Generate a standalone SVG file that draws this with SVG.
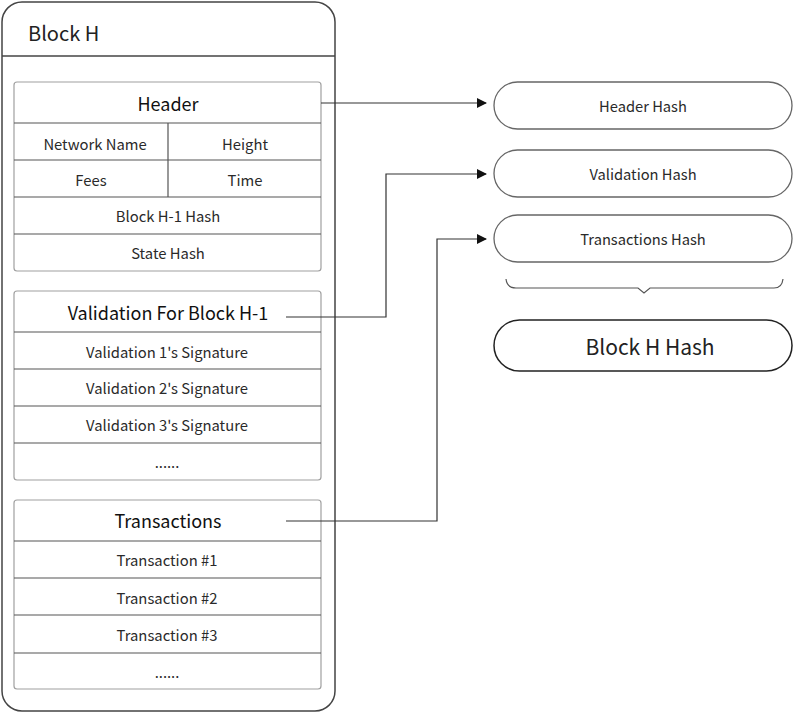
<svg xmlns="http://www.w3.org/2000/svg" width="794" height="713" viewBox="0 0 794 713">
<defs>
<style>
text{font-family:"Noto Sans CJK SC","Noto Sans",sans-serif;fill:#2a2a2a;text-anchor:middle;dominant-baseline:central}
.t{font-size:18px;fill:#111}
.r{font-size:14.8px}
.p{font-size:14.7px}
.box{fill:#fff;stroke:#a0a0a0;stroke-width:1.2}
.div{stroke:#555;stroke-width:1.2;fill:none}
.pill{fill:#fff;stroke:#666;stroke-width:1.3}
.con{fill:none;stroke:#333;stroke-width:1.2}
</style>
<marker id="ah" markerWidth="10" markerHeight="10" refX="9" refY="5" orient="auto" markerUnits="userSpaceOnUse">
<path d="M0,0 L10,5 L0,10 Z" fill="#111"/>
</marker>
</defs>
<rect width="794" height="713" fill="#fff"/>
<g id="block-h">
<rect x="2" y="2" width="333" height="709" rx="20" fill="#fff" stroke="#444" stroke-width="1.5"/>
<line x1="2" y1="56" x2="335" y2="56" stroke="#444" stroke-width="1.5"/>
<text x="28" y="32" style="font-size:20px;text-anchor:start;fill:#222">Block H</text>
</g>
<g id="header">
<rect class="box" x="14" y="82" width="307" height="189" rx="3"/>
<path class="div" d="M14,123H321M14,160H321M14,197H321M14,234H321M168,123V197"/>
<text class="t" x="168" y="103">Header</text>
<text class="r" x="95" y="143">Network Name</text>
<text class="r" x="245" y="143">Height</text>
<text class="r" x="91" y="179">Fees</text>
<text class="r" x="245" y="179">Time</text>
<text class="r" x="168" y="215">Block H-1 Hash</text>
<text class="r" x="168" y="252">State Hash</text>
</g>
<g id="validation">
<rect class="box" x="14" y="291" width="307" height="189" rx="3"/>
<path class="div" d="M14,332H321M14,369H321M14,406H321M14,443H321"/>
<text class="t" x="168" y="312">Validation For Block H-1</text>
<text class="r" x="167" y="351">Validation 1's Signature</text>
<text class="r" x="167" y="387">Validation 2's Signature</text>
<text class="r" x="167" y="424">Validation 3's Signature</text>
<text class="r" x="167" y="461">......</text>
</g>
<g id="transactions">
<rect class="box" x="14" y="500" width="307" height="189" rx="3"/>
<path class="div" d="M14,541H321M14,578H321M14,615H321M14,653H321"/>
<text class="t" x="168" y="520">Transactions</text>
<text class="r" x="167" y="559">Transaction #1</text>
<text class="r" x="167" y="597">Transaction #2</text>
<text class="r" x="167" y="634">Transaction #3</text>
<text class="r" x="167" y="671">......</text>
</g>
<g id="header-hash">
<rect class="pill" x="494" y="82" width="298" height="47" rx="23.5"/>
<text class="p" x="643" y="105">Header Hash</text>
</g>
<g id="validation-hash">
<rect class="pill" x="494" y="150" width="298" height="47" rx="23.5"/>
<text class="p" x="643" y="173">Validation Hash</text>
</g>
<g id="transactions-hash">
<rect class="pill" x="494" y="215" width="298" height="47" rx="23.5"/>
<text class="p" x="643" y="238">Transactions Hash</text>
</g>
<g id="brace">
<path d="M506,279 Q507,288 516,288 H638 L644,293 L650,288 H774 Q782,288 783,279" fill="none" stroke="#555" stroke-width="1.2"/>
</g>
<g id="block-h-hash">
<rect x="494" y="320" width="298" height="51" rx="25.5" fill="#fff" stroke="#222" stroke-width="1.5"/>
<text x="650" y="346" style="font-size:21px;fill:#222">Block H Hash</text>
</g>
<g id="connectors">
<path class="con" d="M321,103H486" marker-end="url(#ah)"/>
<path class="con" d="M286,317H386V174H486" marker-end="url(#ah)"/>
<path class="con" d="M286,521H437V239H486" marker-end="url(#ah)"/>
</g>
</svg>
